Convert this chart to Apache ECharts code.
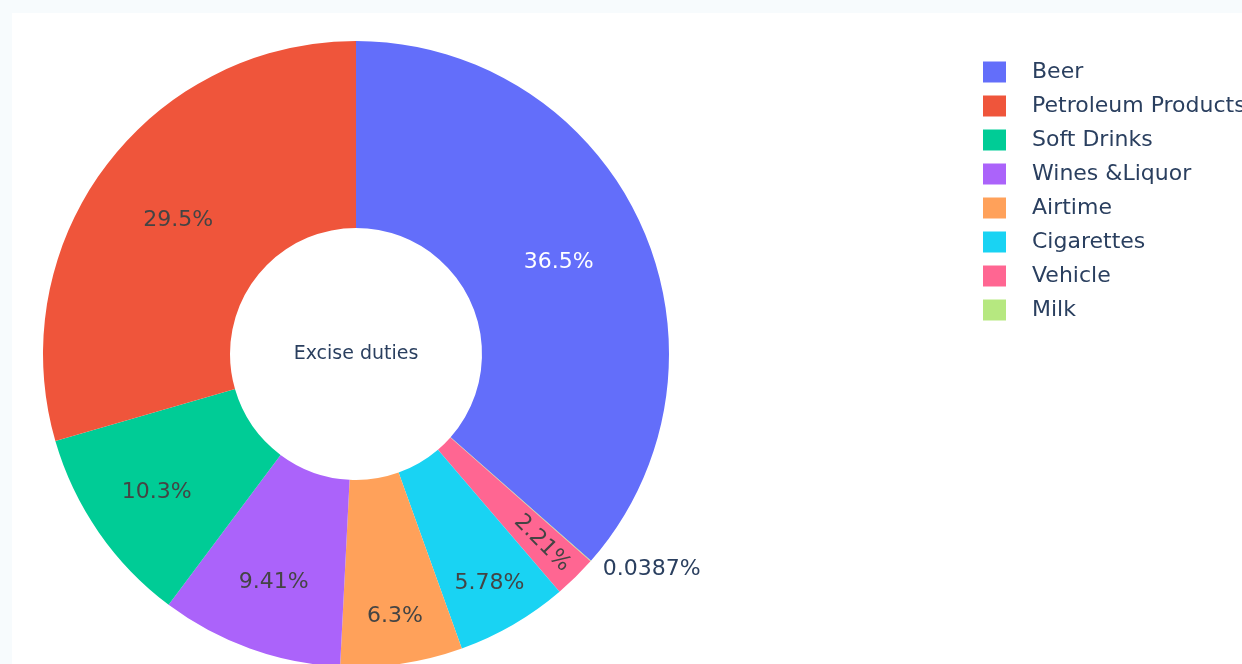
<!DOCTYPE html>
<html>
<head>
<meta charset="utf-8">
<script src="https://cdn.jsdelivr.net/npm/echarts@6/dist/echarts.min.js"></script>
<style>
  html, body { margin: 0; padding: 0; background: #f7fbfd; overflow: hidden; }
  #chart {
    position: absolute;
    left: 12px;
    top: 13px;
    width: 1230px;
    height: 651px;
    background: #ffffff;
  }
</style>
</head>
<body>
<div id="chart"></div>
<script>
// slices in drawing order (clockwise from 12 o'clock)
const categories = ['Beer', 'Milk', 'Vehicle', 'Cigarettes', 'Airtime', 'Wines &Liquor', 'Soft Drinks', 'Petroleum Products']
const shares = [36.5, 0.0387, 2.21, 5.78, 6.3, 9.41, 10.3, 29.5]
const colors = ['#636efa', '#b6e880', '#ff6692', '#19d3f3', '#ffa15a', '#ab63fa', '#00cc96', '#ef553b']
const legendOrder = ['Beer', 'Petroleum Products', 'Soft Drinks', 'Wines &Liquor', 'Airtime', 'Cigarettes', 'Vehicle', 'Milk']
const holeText = 'Excise duties'

const FONT = '"DejaVu Sans", Verdana, sans-serif'
const CX = 344
const CY = 341
const R_OUT = 313
const R_IN = 126

// which label sits on which ring (plotly pushes narrow-slice text outward)
const ringMid = ['Beer', 'Petroleum Products']
const ringOuter1 = ['Soft Drinks', 'Wines &Liquor']
const ringOuter2 = ['Airtime', 'Cigarettes', 'Vehicle']

const chart = echarts.init(document.getElementById('chart'))

function fmt(p) {
  return p.value + '%'
}

function labelLayer(names, innerR) {
  return {
    type: 'pie',
    silent: true,
    legendHoverLink: false,
    center: [CX, CY],
    radius: [innerR, R_OUT],
    startAngle: 90,
    clockwise: true,
    avoidLabelOverlap: false,
    animation: false,
    itemStyle: { color: 'rgba(0,0,0,0)', borderWidth: 0 },
    labelLine: { show: false },
    data: categories.map((name, i) => ({
      name,
      value: shares[i],
      label: {
        show: names.includes(name),
        position: 'inside',
        formatter: fmt,
        color: '#444444',
        fontFamily: FONT,
        fontSize: 22,
        rotate: name === 'Vehicle' ? 'radial' : 0,
      },
    })),
  }
}

const mainData = categories.map((name, i) => {
  const item = {
    name,
    value: shares[i],
    itemStyle: { color: colors[i] },
    label: {
      show: ringMid.includes(name),
      position: 'inside',
      formatter: fmt,
      color: name === 'Beer' ? '#ffffff' : '#444444',
      fontFamily: FONT,
      fontSize: 22,
    },
  }
  if (name === 'Milk') {
    item.label = {
      show: true,
      position: 'outside',
      formatter: fmt,
      color: '#2a3f5f',
      fontFamily: FONT,
      fontSize: 22,
      distanceToLabelLine: 3,
    }
    item.labelLine = { show: false, length: 12, length2: 0 }
  }
  return item
})

chart.setOption({
  animation: false,
  legend: {
    orient: 'vertical',
    left: 971,
    top: 48,
    padding: 0,
    icon: 'rect',
    itemWidth: 23,
    itemHeight: 21,
    itemGap: 12,
    textStyle: {
      color: '#2a3f5f',
      fontFamily: FONT,
      fontSize: 22,
      lineHeight: 21,
      padding: [0, 0, 0, 21],
    },
    data: legendOrder.map(name => ({
      name,
      itemStyle: { color: colors[categories.indexOf(name)] },
    })),
  },
  graphic: [
    {
      type: 'text',
      x: CX,
      y: CY,
      style: {
        text: holeText,
        align: 'center',
        verticalAlign: 'middle',
        fill: '#2a3f5f',
        font: '19px ' + FONT,
      },
    },
  ],
  series: [
    {
      type: 'pie',
      center: [CX, CY],
      radius: [R_IN, R_OUT],
      startAngle: 90,
      clockwise: true,
      avoidLabelOverlap: false,
      itemStyle: { borderWidth: 0 },
      labelLine: { show: false },
      emphasis: { scale: false },
      data: mainData,
    },
    labelLayer(ringOuter1, 166),
    labelLayer(ringOuter2, 212),
  ],
})
</script>
</body>
</html>
